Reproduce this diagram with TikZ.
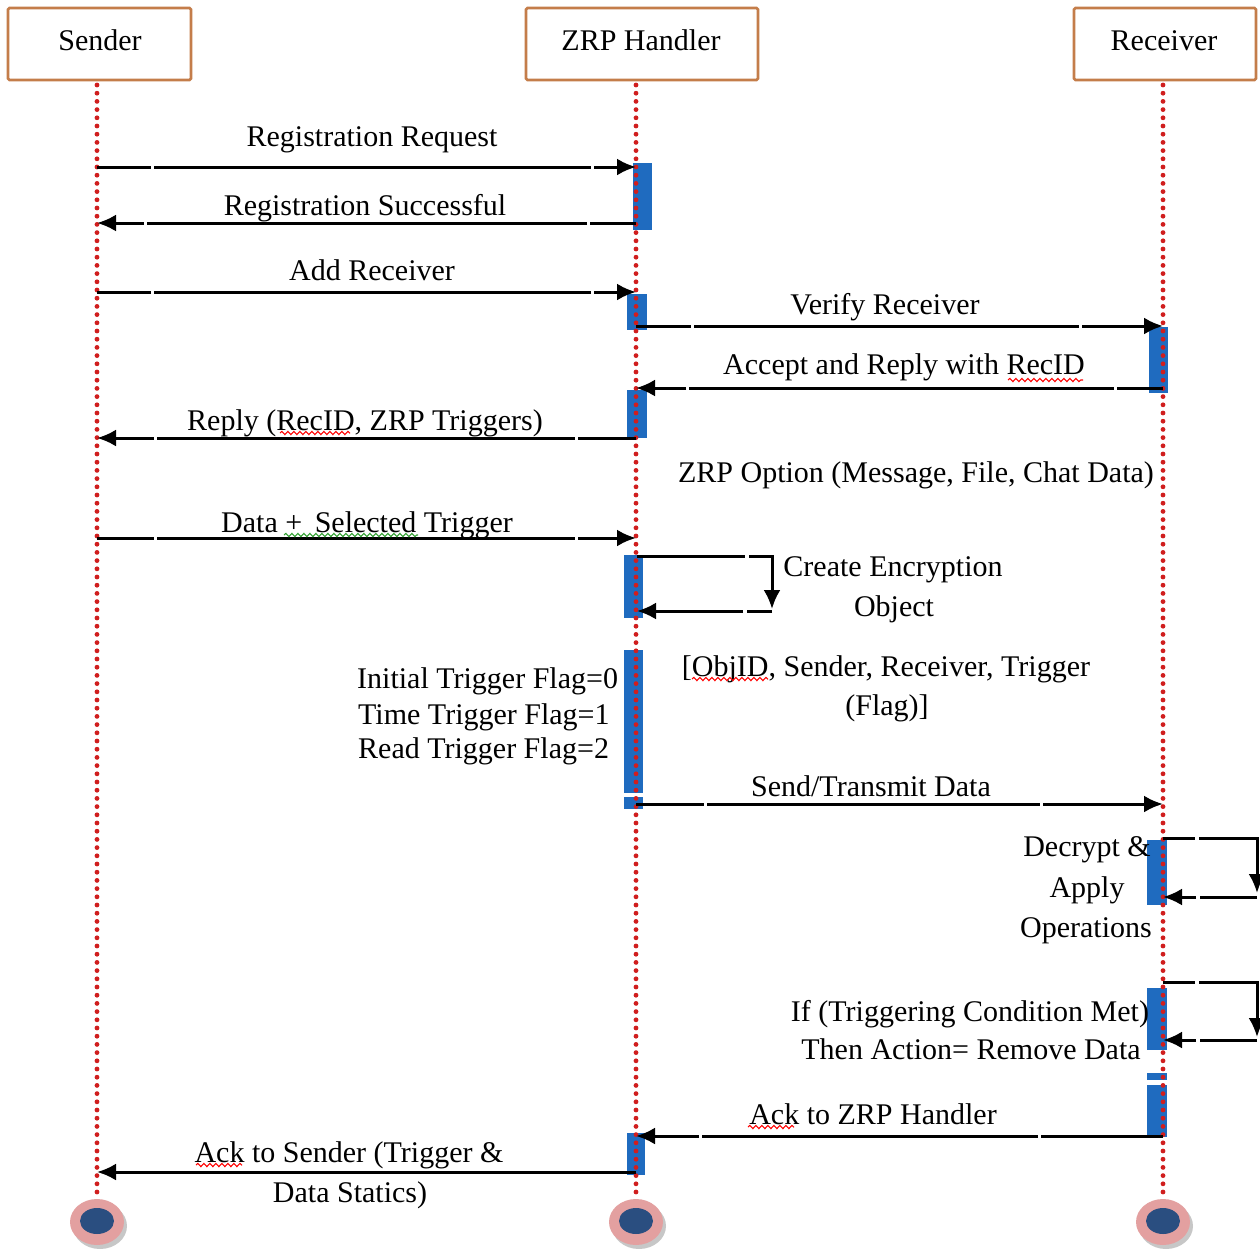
\documentclass[tikz,border=0pt]{standalone}
\usepackage{fontspec}
\setmainfont{Liberation Serif}
\usetikzlibrary{arrows.meta,decorations.pathmorphing}
\definecolor{boxline}{HTML}{C47D4A}
\definecolor{lifered}{HTML}{D01E1E}
\definecolor{actblue}{HTML}{1F6BBF}
\definecolor{endpink}{HTML}{E3A0A0}
\definecolor{enddark}{HTML}{2A4E80}
\definecolor{spellgreen}{HTML}{2FA02F}
\begin{document}
\begin{tikzpicture}[x=1pt,y=-1pt,
  txt/.style={font=\fontsize{30}{36}\selectfont, inner sep=0pt, anchor=base},
  actor/.style={draw=boxline, line width=2.8pt, fill=white, rounded corners=1.5pt, minimum height=72pt, inner sep=0pt, font=\fontsize{30}{36}\selectfont},
  life/.style={draw=lifered, line width=4.8pt, line cap=round, dash pattern=on 0pt off 8.2pt},
  act/.style={fill=actblue},
  tip/.style={-{Latex[length=19pt,width=17pt]}},
  msg/.style 2 args={line width=3pt, tip, dash pattern=on #1 off 3pt on #2 off 3pt on 600pt},
  loopline/.style={line width=3pt, tip},
  squig/.style={draw=red, line width=1.1pt, decorate, decoration={snake, amplitude=1.6pt, segment length=6pt}},
  endouter/.style={fill=endpink},
  endinner/.style={fill=enddark}
]
\useasboundingbox[fill=white] (0,0) rectangle (1260,1250);

% actor boxes
\node[actor, minimum width=183pt] (sender) at (99.5,44) {};
\node[txt] (senderT) at (100,50) {Sender};
\node[actor, minimum width=232pt] (zrp) at (642,44) {};
\node[txt] (zrpT) at (641,50) {ZRP Handler};
\node[actor, minimum width=182pt] (recv) at (1165,44) {};
\node[txt] (recvT) at (1164,50) {Receiver};

% activation bars
\fill[act] (633,163) rectangle (652,230);
\fill[act] (627,294) rectangle (647,330);
\fill[act] (627,390) rectangle (647,438);
\fill[act] (624,555) rectangle (643,618);
\fill[act] (624,650) rectangle (643,793);
\fill[act] (624,797) rectangle (643,809);
\fill[act] (627,1133) rectangle (645,1175);
\fill[act] (1149,327) rectangle (1168,393);
\fill[act] (1147,840) rectangle (1167,905);
\fill[act] (1147,988) rectangle (1167,1050);
\fill[act] (1147,1073) rectangle (1167,1080);
\fill[act] (1147,1085) rectangle (1167,1137);

% lifelines
\coordinate (Sb) at (97,85);  \coordinate (Se) at (97,1196);
\coordinate (Zb) at (636,85); \coordinate (Ze) at (636,1196);
\coordinate (Rb) at (1163,85);\coordinate (Re) at (1163,1196);
\draw[life] (Sb) -- (Se);
\draw[life] (Zb) -- (Ze);
\draw[life] (Rb) -- (Re);

% end markers
\foreach \n/\x in {endS/97,endZ/636,endR/1163}{
  \fill[black!22] (\x+3,1226) ellipse [x radius=27, y radius=23];
  \fill[endouter] (\x,1222) ellipse [x radius=27, y radius=23];
  \fill[endinner] (\x,1221) ellipse [x radius=17, y radius=13];
  \coordinate (\n) at (\x,1222);
}

% messages
\coordinate (m1a) at (97,167);  \coordinate (m1b) at (636,167);
\draw[msg={54pt}{437pt}] (m1a) -- (m1b);
\node[txt] (l1) at (372,146) {Registration Request};

\coordinate (m2a) at (636,223); \coordinate (m2b) at (97,223);
\draw[msg={46pt}{440pt}] (m2a) -- (m2b);
\node[txt] (l2) at (365,215) {Registration Successful};

\coordinate (m3a) at (97,292);  \coordinate (m3b) at (636,292);
\draw[msg={54pt}{437pt}] (m3a) -- (m3b);
\node[txt] (l3) at (372,280) {Add Receiver};

\coordinate (m4a) at (636,326); \coordinate (m4b) at (1163,326);
\draw[msg={55pt}{385pt}] (m4a) -- (m4b);
\node[txt] (l4) at (885,314) {Verify Receiver};

\coordinate (m5a) at (1163,388); \coordinate (m5b) at (636,388);
\draw[msg={46pt}{425pt}] (m5a) -- (m5b);
\node[txt] (l5) at (904,374) {Accept and Reply with RecID};

\coordinate (m6a) at (636,438); \coordinate (m6b) at (97,438);
\draw[msg={58pt}{418pt}] (m6a) -- (m6b);
\node[txt] (l6) at (365,430) {Reply (RecID, ZRP Triggers)};

\node[txt] (opt) at (916,482) {ZRP Option (Message, File, Chat Data)};

\coordinate (m7a) at (97,538);  \coordinate (m7b) at (636,538);
\draw[msg={57pt}{418pt}] (m7a) -- (m7b);
\node[txt] (l7) at (367,532) {Data +\, Selected Trigger};

% self loop: create encryption object
\coordinate (c1a) at (637,556); \coordinate (c1b) at (772,556);
\coordinate (c1c) at (772,609); \coordinate (c1d) at (772,611); \coordinate (c1e) at (637,611);
\draw[loopline, dash pattern=on 108pt off 4pt on 600pt] (c1a) -- (c1b) -- (c1c);
\draw[loopline, dash pattern=on 25pt off 4pt on 600pt] (c1d) -- (c1e);
\node[txt] (ce1) at (893,576) {Create Encryption};
\node[txt] (ce2) at (894,616) {Object};

\node[txt, anchor=base west] (f1) at (357,688) {Initial Trigger Flag=0};
\node[txt, anchor=base west] (f2) at (358,724) {Time Trigger Flag=1};
\node[txt, anchor=base west] (f3) at (358,758) {Read Trigger Flag=2};

\node[txt] (ob1) at (886,676) {[ObjID, Sender, Receiver, Trigger};
\node[txt] (ob2) at (887,715) {(Flag)]};

\coordinate (m8a) at (636,804); \coordinate (m8b) at (1163,804);
\draw[msg={68pt}{333pt}] (m8a) -- (m8b);
\node[txt] (l8) at (871,796) {Send/Transmit Data};

% self loop: decrypt
\coordinate (d1a) at (1163,838); \coordinate (d1b) at (1257,838);
\coordinate (d1c) at (1257,893); \coordinate (d1d) at (1257,897); \coordinate (d1e) at (1163,897);
\draw[loopline, dash pattern=on 32pt off 4pt on 600pt] (d1a) -- (d1b) -- (d1c);
\draw[loopline, dash pattern=on 57pt off 4pt on 600pt] (d1d) -- (d1e);
\node[txt] (dc1) at (1087,856) {Decrypt \&};
\node[txt] (dc2) at (1087,897) {Apply};
\node[txt] (dc3) at (1086,937) {Operations};

% self loop: trigger condition
\coordinate (t1a) at (1163,982); \coordinate (t1b) at (1257,982);
\coordinate (t1c) at (1257,1037); \coordinate (t1d) at (1257,1040); \coordinate (t1e) at (1163,1040);
\draw[loopline, dash pattern=on 32pt off 4pt on 600pt] (t1a) -- (t1b) -- (t1c);
\draw[loopline, dash pattern=on 57pt off 4pt on 600pt] (t1d) -- (t1e);
\node[txt] (tc1) at (970,1021) {If (Triggering Condition Met)};
\node[txt] (tc2) at (971,1059) {Then Action= Remove Data};

\coordinate (m9a) at (1163,1136); \coordinate (m9b) at (636,1136);
\draw[msg={122pt}{336pt}] (m9a) -- (m9b);
\node[txt] (l9) at (873,1124) {Ack to ZRP Handler};

\coordinate (m10a) at (636,1172); \coordinate (m10b) at (97,1172);
\draw[line width=3pt, tip] (m10a) -- (m10b);
\node[txt] (l10a) at (349,1162) {Ack to Sender (Trigger \&};
\node[txt] (l10b) at (350,1202) {Data Statics)};

% spell-check squiggles
\draw[squig] (1008,380) -- (1083,380);
\draw[squig] (280,433) -- (350,433);
\draw[squig] (692,679) -- (768,679);
\draw[squig] (748,1127) -- (794,1127);
\draw[squig] (196,1165) -- (242,1165);
\draw[squig, draw=spellgreen] (284,535) -- (418,535);
\end{tikzpicture}
\end{document}
